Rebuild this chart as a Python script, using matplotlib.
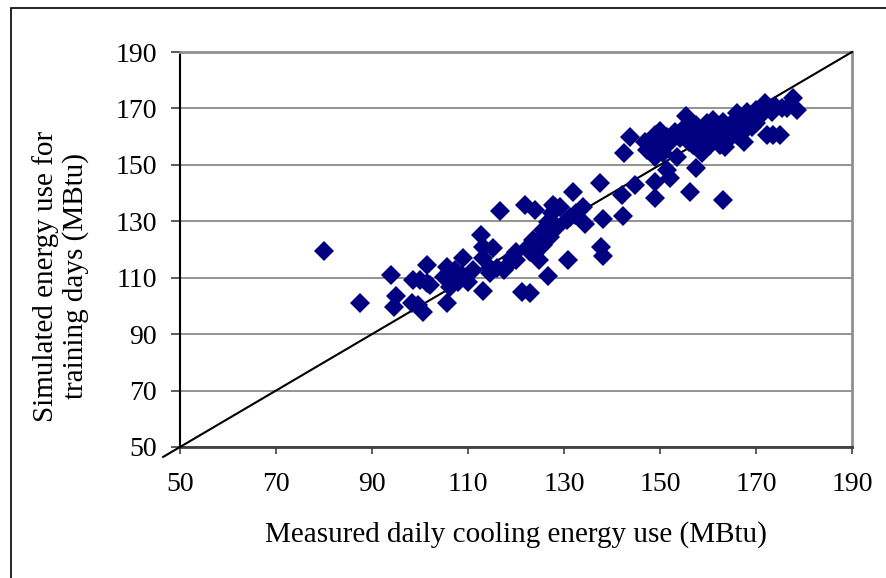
import matplotlib
matplotlib.use("Agg")
import matplotlib.pyplot as plt
from matplotlib.patches import Rectangle

plt.rcParams["font.family"] = ["Liberation Serif", "DejaVu Serif"]

# ------------------------------------------------------------
# Measured vs simulated daily cooling energy (MBtu)

measured = [
    80, 87.5, 93.9, 95.1, 94.6, 98.3, 98.6, 99.9, 100.7, 99.6,
    101.4, 102.1, 101.4, 105.6, 105.6, 106.2, 104.9, 106.9, 106.2, 108,
    109, 110, 111.1, 112.8, 113.2, 113.2, 113.2, 115.3, 114.6, 116,
    116.7, 118.8, 120.1, 121.2, 122.9, 121.9, 124, 123.5, 122.9, 124.7,
    126.7, 125.7, 127.1, 127.4, 129.2, 128.1, 130.9, 131.9, 131.3, 132.6,
    126.7, 122.2, 120.1, 117.4, 114.6, 119, 107.3, 108.7, 125.7, 124,
    142.4, 137.4, 144.8, 149, 149, 142, 127.8, 134, 132.3, 130.6,
    134.4, 138.1, 142.2, 137.8, 138.1, 126, 128.5, 125,
    155.4, 143.8, 146.9, 149, 150, 149, 150.7, 153.5, 151.4, 153.1,
    155.6, 157.6, 159.7, 158.3, 158.7, 161.1, 161.8, 163.2, 163.5, 165.3,
    166, 164.6, 167.4, 168.1, 169.4, 170.1, 171.9, 172.2, 173.6, 175,
    173.3, 175.4, 176.4, 177.8, 178.5, 168.1, 156.9, 154.9, 147.2, 157.6,
    152.1, 156.3, 163.2, 151.4, 160.4, 162.5, 166.7, 170.8, 169.1, 166,
    163.9, 159, 152.4, 149.3, 154.2,
    157, 160, 162, 164, 158, 161, 165, 167, 156, 160,
    162, 150, 152, 156, 168, 170, 174, 171,
]

simulated = [
    119.5, 100.9, 110.9, 103.5, 99.7, 101.2, 109.2, 109.2, 98, 100.3,
    114.5, 107.4, 108, 100.9, 113.9, 111.6, 110.4, 109.8, 106.8, 108.6,
    116.9, 108.6, 112.7, 125.2, 121, 116.9, 105.4, 120.4, 111.6, 113.3,
    133.8, 115.1, 116.3, 105, 104.5, 135.8, 134, 123.4, 119.2, 116.3,
    110.6, 126.9, 124.6, 132.8, 135.2, 135.2, 116.3, 140.5, 131.6, 132.8,
    129.9, 120.4, 119.2, 112.7, 113.3, 116.9, 112.7, 111, 121.6, 118.7,
    154.1, 143.5, 142.9, 144, 138.2, 139.3, 135.8, 135.2, 132.2, 130.5,
    129, 130.7, 131.9, 121, 117.7, 126.9, 128.1, 123.4,
    167.4, 160, 158.2, 160.6, 157, 152.9, 154.1, 152.9, 160, 161.8,
    160.6, 164.1, 164.7, 159.4, 154.1, 160.6, 164.1, 165.3, 156.4, 162.9,
    168.3, 159.4, 158.2, 168.9, 165.3, 169.5, 171.8, 160.6, 160.6, 160.6,
    168.9, 170.1, 170.1, 173.6, 169.5, 162.9, 157, 162.9, 155.3, 148.8,
    145.3, 140.3, 137.6, 148.2, 157, 157, 161.8, 167.3, 163.5, 160.6,
    160.6, 161.8, 159.4, 159.4, 159.4,
    162, 159, 162, 163, 157, 166, 165, 164, 160, 163,
    159, 162, 158, 158, 166, 165, 171, 170,
]

ticks = [50, 70, 90, 110, 130, 150, 170, 190]

# ------------------------------------------------------------
# Figure

fig = plt.figure(figsize=(8.87, 5.78), dpi=100)
ax = fig.add_axes([180 / 887, 131 / 578, 672 / 887, 395 / 578])

ax.set_xlim(50, 190)
ax.set_ylim(50, 190)
ax.set_xticks(ticks)
ax.set_yticks(ticks)

ax.grid(axis="y", color="#808080", linewidth=1.2)
ax.set_axisbelow(True)

# 1:1 reference line
ax.plot([46.5, 190], [46.5, 190], color="black", linewidth=1.5,
        clip_on=False, zorder=3)

ax.plot(measured, simulated, linestyle="none", marker="D", markersize=10,
        color="#000080", markeredgewidth=0, zorder=4)

ax.spines["left"].set_color("black")
ax.spines["left"].set_linewidth(1.5)
ax.spines["bottom"].set_color("#404040")
ax.spines["bottom"].set_linewidth(2)
for side in ["top", "right"]:
    ax.spines[side].set_color("#909090")
    ax.spines[side].set_linewidth(2)

ax.tick_params(axis="y", direction="out", length=6.5, width=1.2,
               pad=10, labelsize=20, color="#404040")
ax.tick_params(axis="x", direction="out", length=5, width=1.2,
               pad=13, labelsize=20, color="#404040")

ax.set_xlabel("Measured daily cooling energy use (MBtu)", fontsize=21,
              labelpad=17)

fig.text(61 / 887, 1 - 276 / 578, "Simulated energy use for\ntraining days (MBtu)",
         rotation=90, ha="center", va="center", multialignment="center",
         fontsize=21, linespacing=1.15)

# outer chart frame
fig.patches.append(Rectangle((11 / 887, -0.05), 1.2, 1 - 8 / 578 + 0.05,
                             transform=fig.transFigure, fill=False,
                             edgecolor="black", linewidth=1.2))

fig.savefig("out.png", dpi=100)
